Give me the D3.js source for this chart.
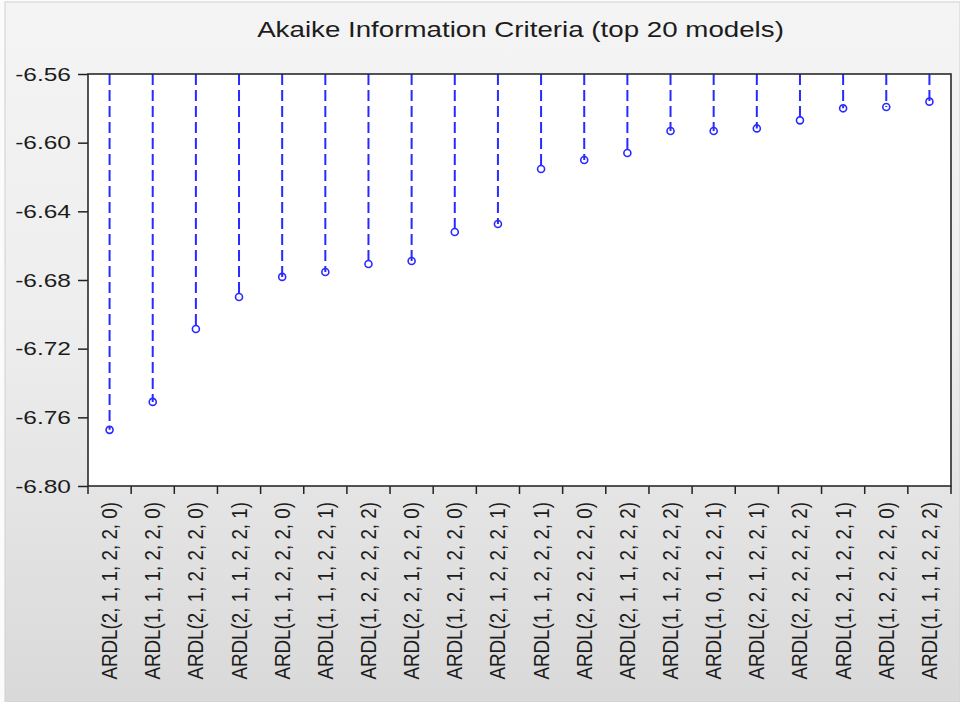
<!DOCTYPE html>
<html>
<head>
<meta charset="utf-8">
<script src="https://cdn.jsdelivr.net/npm/d3@7"></script>
<style>
  html, body { margin: 0; padding: 0; background: #ffffff; }
  svg { display: block; }
  text { font-family: "Liberation Sans", Arial, sans-serif; fill: #1c1c1c; }
</style>
</head>
<body>
<svg id="chart" width="960" height="702"></svg>
<script>
// ARDL model specifications, ordered by AIC
const models = [
  "ARDL(2, 1, 1, 2, 2, 0)", "ARDL(1, 1, 1, 2, 2, 0)", "ARDL(2, 1, 2, 2, 2, 0)",
  "ARDL(2, 1, 1, 2, 2, 1)", "ARDL(1, 1, 2, 2, 2, 0)", "ARDL(1, 1, 1, 2, 2, 1)",
  "ARDL(1, 2, 2, 2, 2, 2)", "ARDL(2, 2, 1, 2, 2, 0)", "ARDL(1, 2, 1, 2, 2, 0)",
  "ARDL(2, 1, 2, 2, 2, 1)", "ARDL(1, 1, 2, 2, 2, 1)", "ARDL(2, 2, 2, 2, 2, 0)",
  "ARDL(2, 1, 1, 2, 2, 2)", "ARDL(1, 1, 2, 2, 2, 2)", "ARDL(1, 0, 1, 2, 2, 1)",
  "ARDL(2, 2, 1, 2, 2, 1)", "ARDL(2, 2, 2, 2, 2, 2)", "ARDL(1, 2, 1, 2, 2, 1)",
  "ARDL(1, 2, 2, 2, 2, 0)", "ARDL(1, 1, 1, 2, 2, 2)"
];

// Akaike information criterion per model
const aic = [
  -6.7673, -6.7510, -6.7085, -6.6899, -6.6782, -6.6753, -6.6707,
  -6.6689, -6.6520, -6.6474, -6.6153, -6.6101, -6.6060, -6.5932,
  -6.5932, -6.5917, -6.5870, -6.5800, -6.5792, -6.5761
];

const yTicks = [-6.56, -6.60, -6.64, -6.68, -6.72, -6.76, -6.80];
const chartTitle = "Akaike Information Criteria (top 20 models)";

const W = 960, H = 702;
const plot = { left: 88, right: 951, top: 74, bottom: 486 };
const blue = "#2a2aff";

const svg = d3.select("#chart");

// window-style grey background
const defs = svg.append("defs");
const grad = defs.append("linearGradient")
  .attr("id", "bg").attr("x1", 0).attr("y1", 0).attr("x2", 0).attr("y2", 1);
grad.append("stop").attr("offset", "0%").attr("stop-color", "#f4f4f4");
grad.append("stop").attr("offset", "45%").attr("stop-color", "#eeeeee");
grad.append("stop").attr("offset", "100%").attr("stop-color", "#d9d9d9");

svg.append("rect").attr("x", 0).attr("y", 0).attr("width", W).attr("height", H)
  .attr("fill", "#fbfbfb");
svg.append("rect").attr("x", 5).attr("y", 2).attr("width", W - 5).attr("height", H - 2)
  .attr("fill", "url(#bg)").attr("stroke", "#d0d0d0").attr("stroke-width", 1);

const x = d3.scaleBand()
  .domain(models)
  .range([plot.left, plot.right])
  .paddingInner(0).paddingOuter(0);

const y = d3.scaleLinear()
  .domain([-6.80, -6.56])
  .range([plot.bottom, plot.top]);

// plotting area
svg.append("rect")
  .attr("x", plot.left).attr("y", plot.top)
  .attr("width", plot.right - plot.left).attr("height", plot.bottom - plot.top)
  .attr("fill", "#ffffff");

// title
svg.append("text")
  .attr("transform", `translate(${(plot.left + plot.right) / 2 + 1},37) scale(1.26,1)`)
  .attr("text-anchor", "middle")
  .style("font-size", "22px")
  .text(chartTitle);

// y axis
const yAxis = svg.append("g")
  .attr("transform", `translate(${plot.left},0)`)
  .call(d3.axisLeft(y).tickValues(yTicks).tickSize(10).tickSizeOuter(0)
    .tickFormat(d3.format(".2f")));
yAxis.select(".domain").remove();
yAxis.selectAll(".tick line").attr("stroke", "#222").attr("stroke-width", 1.5);
yAxis.selectAll(".tick text")
  .attr("x", null).attr("dy", null)
  .attr("text-anchor", "end")
  .attr("fill", "#1c1c1c")
  .style("font-size", "17.5px")
  .style("font-family", "'Liberation Sans', Arial, sans-serif")
  .attr("transform", "translate(-17,6) scale(1.4,1)")
  .text(d => d3.format(".2f")(d).replace("−", "-"));

// x axis: ticks on band boundaries
const boundaries = d3.range(models.length + 1).map(i =>
  i < models.length ? x(models[i]) : plot.right);
svg.append("g").selectAll("line")
  .data(boundaries)
  .join("line")
  .attr("x1", d => d).attr("x2", d => d)
  .attr("y1", plot.bottom).attr("y2", plot.bottom + 8)
  .attr("stroke", "#222").attr("stroke-width", 1.5);

// rotated model labels
svg.append("g").selectAll("text")
  .data(models)
  .join("text")
  .attr("transform", d =>
    `translate(${x(d) + x.bandwidth() / 2 + 7.5},502) rotate(-90) scale(0.855,1)`)
  .attr("text-anchor", "end")
  .style("font-size", "22px")
  .text(d => d);

// dashed drop lines from top of plot to each value
const stems = svg.append("g");
stems.selectAll("line")
  .data(aic)
  .join("line")
  .attr("x1", (d, i) => x(models[i]) + x.bandwidth() / 2)
  .attr("x2", (d, i) => x(models[i]) + x.bandwidth() / 2)
  .attr("y1", plot.top)
  .attr("y2", d => y(d))
  .attr("stroke", blue)
  .attr("stroke-width", 2)
  .attr("stroke-dasharray", "11,5");

// value markers
stems.selectAll("circle")
  .data(aic)
  .join("circle")
  .attr("cx", (d, i) => x(models[i]) + x.bandwidth() / 2)
  .attr("cy", d => y(d))
  .attr("r", 3.5)
  .attr("fill", "none")
  .attr("stroke", blue)
  .attr("stroke-width", 1.6);

// plot frame
svg.append("rect")
  .attr("x", plot.left).attr("y", plot.top)
  .attr("width", plot.right - plot.left).attr("height", plot.bottom - plot.top)
  .attr("fill", "none").attr("stroke", "#2a2a2a").attr("stroke-width", 1.6);
</script>
</body>
</html>
